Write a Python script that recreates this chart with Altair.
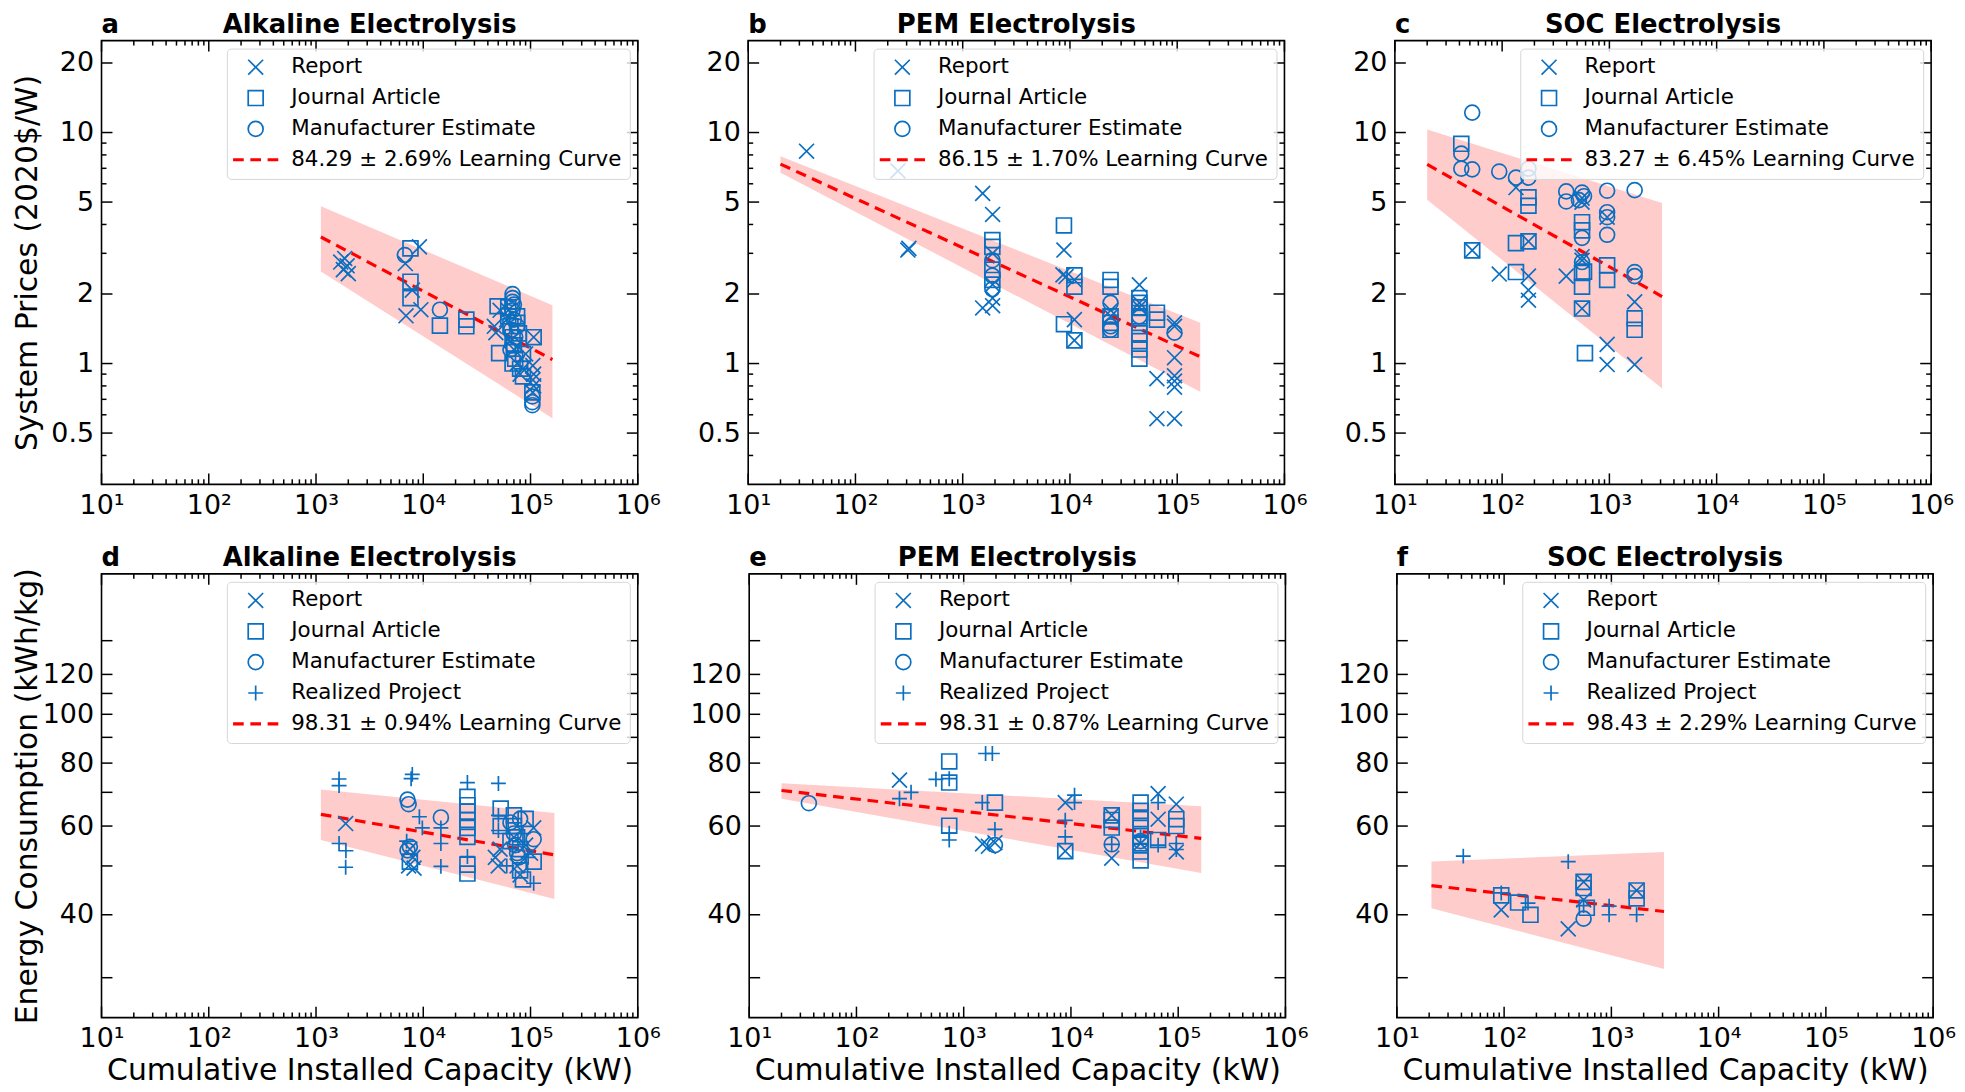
import altair as alt
import pandas as pd

FONT = "DejaVu Sans"
BLUE = "#0b6fc1"
RED = "#ff0000"
BAND = "#ffcccc"
W, H = 539, 446

# ---------------- (a) Alkaline electrolysis, system price ----------------
a_report = [(1700, 2.75), (1800, 2.55), (1850, 2.85), (1950, 2.65), (2000, 2.45),
            (6800, 2.71), (9200, 3.2), (7900, 2.08), (6900, 1.61), (9500, 1.71),
            (47500, 1.36), (46000, 1.45), (52000, 1.7), (60000, 1.55), (65000, 1.25),
            (70000, 1.15), (75000, 1.0), (80000, 0.9), (85000, 0.95), (107000, 1.3),
            (105000, 0.98), (107000, 0.9), (105000, 0.85), (107000, 0.8), (105000, 0.75),
            (90000, 1.1), (62000, 1.7)]
a_journal = [(7600, 3.15), (7600, 2.26), (7600, 1.92), (14300, 1.46), (25200, 1.55),
             (25200, 1.45), (49300, 1.77), (51000, 1.11), (62000, 1.6), (65000, 1.45),
             (68000, 1.3), (70000, 1.2), (72000, 1.05), (75000, 1.5), (78000, 1.35),
             (80000, 0.95), (68000, 1.0), (85000, 1.1), (107000, 1.3), (104000, 0.75),
             (85000, 0.88), (62000, 1.75), (75000, 1.6)]
a_manuf = [(6730, 2.95), (14300, 1.71), (68000, 2.0), (68000, 1.92), (68000, 1.85),
           (70000, 1.8), (68000, 1.7), (70000, 1.55), (66000, 1.4), (72000, 1.3),
           (68000, 1.2), (75000, 1.45), (104000, 0.72), (104000, 0.68), (104000, 0.66),
           (65000, 1.15)]
a_band_x = [1110, 160000]
a_band_hi = [4.8, 1.79]
a_band_lo = [2.5, 0.58]
a_fit = [3.53, 1.04]
a_label = "84.29 ± 2.69% Learning Curve"

# ---------------- (b) PEM electrolysis, system price ----------------
b_report = [(35, 8.3), (249, 6.82), (308, 3.1), (315, 3.15), (1535, 5.45), (1900, 4.42),
            (1900, 3.0), (1900, 2.2), (1535, 1.74), (1900, 1.78), (1900, 1.92),
            (8790, 3.1), (8600, 2.42), (9200, 2.38), (11000, 2.3), (11000, 1.55),
            (11000, 1.26), (24000, 1.7), (24000, 1.6), (44400, 2.19), (44400, 1.83),
            (44400, 1.75), (94400, 1.5), (94400, 1.45), (94400, 1.06), (94400, 0.885),
            (94400, 0.84), (94400, 0.79), (64700, 0.86), (64700, 0.577), (94400, 0.577)]
b_journal = [(1890, 3.42), (1890, 3.2), (1890, 2.55), (1890, 2.3), (8790, 3.96),
             (11000, 2.41), (11000, 2.15), (8790, 1.48), (11000, 1.26), (23900, 2.3),
             (23900, 2.15), (23900, 1.6), (23900, 1.5), (23900, 1.4), (44400, 1.92),
             (44400, 1.83), (44400, 1.75), (44400, 1.6), (44400, 1.5), (44400, 1.35),
             (44400, 1.25), (44400, 1.15), (44400, 1.05), (64700, 1.66), (64700, 1.55)]
b_manuf = [(1890, 2.8), (1890, 2.4), (1890, 2.1), (23900, 1.83), (23900, 1.45),
           (23900, 1.4), (44400, 1.6), (94400, 1.36)]
b_band_x = [20, 164000]
b_band_hi = [7.9, 1.5]
b_band_lo = [6.7, 0.755]
b_fit = [7.3, 1.07]
b_label = "86.15 ± 1.70% Learning Curve"

# ---------------- (c) SOC electrolysis, system price ----------------
c_report = [(52.6, 3.09), (94, 2.44), (134.6, 5.78), (176, 3.38), (176, 2.39), (176, 2.08),
            (176, 1.88), (396, 2.39), (556, 5.2), (556, 5.0), (556, 2.9), (556, 2.8),
            (556, 1.73), (953, 4.3), (953, 1.21), (953, 0.99), (1720, 1.85), (1720, 0.99)]
c_journal = [(41.6, 8.94), (52.6, 3.09), (134.6, 3.32), (134.6, 2.49), (176, 5.24),
             (176, 4.82), (176, 3.38), (556, 4.09), (556, 3.77), (556, 2.47), (556, 2.15),
             (556, 1.73), (592, 1.11), (580, 2.5), (953, 2.66), (953, 2.3), (1720, 1.57),
             (1720, 1.4)]
c_manuf = [(52.6, 12.2), (41.6, 8.1), (41.6, 6.98), (52.6, 6.93), (94, 6.78),
           (134.6, 6.38), (176, 6.98), (176, 6.38), (396, 5.56), (396, 5.03), (556, 5.5),
           (580, 5.3), (520, 5.1), (556, 3.5), (556, 2.75), (953, 5.6), (953, 4.52),
           (953, 4.3), (953, 3.61), (1720, 5.63), (1720, 2.49), (1720, 2.39)]
c_band_x = [20, 3100]
c_band_hi = [10.3, 4.95]
c_band_lo = [5.12, 0.78]
c_fit = [7.28, 1.95]
c_label = "83.27 ± 6.45% Learning Curve"

# ---------------- (d) Alkaline electrolysis, energy consumption ----------------
d_report = [(1890, 60.7), (7500, 54), (8000, 52), (7300, 50), (8200, 49.5), (47000, 52),
            (50000, 50), (52000, 54), (70000, 57), (75000, 50), (80000, 48),
            (107000, 59.5), (100000, 53), (90000, 55)]
d_journal = [(7500, 51), (25800, 68.6), (25800, 66), (25800, 64.1), (25800, 61.7),
             (25800, 59.5), (25800, 57.1), (25800, 50.3), (25800, 48.3), (52700, 65),
             (52700, 60), (70000, 63), (70000, 60), (75000, 57), (80000, 54), (80000, 49),
             (85000, 47), (107000, 51), (65000, 56), (90000, 62)]
d_manuf = [(7130, 67.7), (7300, 66.3), (14600, 62.4), (7130, 53.7), (7500, 54.6),
           (70000, 58), (72000, 55), (75000, 53), (78000, 52), (107000, 56.5),
           (65000, 61), (80000, 62)]
d_realized = [(1640, 74.4), (1640, 72.2), (1640, 55.4), (1900, 53.6), (1890, 49.7),
              (7700, 74.5), (7900, 76), (9200, 62.6), (9800, 59.5), (14600, 59.5),
              (14600, 55.4), (14600, 49.9), (7000, 56), (25800, 73.2), (25800, 52.2),
              (50200, 72.9), (50200, 63), (50200, 58.8), (107000, 46.2), (60000, 50),
              (85000, 58), (95000, 52)]
d_band_x = [1110, 167000]
d_band_hi = [70.9, 63.7]
d_band_lo = [56.3, 43.0]
d_fit = [63.3, 52.6]
d_label = "98.31 ± 0.94% Learning Curve"

# ---------------- (e) PEM electrolysis, energy consumption ----------------
e_report = [(252, 74), (1500, 55.3), (1700, 54.7), (1955, 55.6), (8850, 66.8),
            (8850, 53.5), (24000, 63), (24000, 51.8), (44600, 55.4), (65000, 69.6),
            (65000, 61.9), (96000, 66.3), (96000, 53.3)]
e_journal = [(733, 80.6), (733, 73.2), (733, 60.1), (1955, 66.8), (8850, 53.5),
             (24000, 63), (24000, 61.7), (24000, 59.6), (44600, 66.8), (44600, 64.3),
             (44600, 61.9), (44600, 59.5), (44600, 57.3), (44600, 55.4), (44600, 53.4),
             (44600, 51.3), (65000, 56.3), (96000, 61.9), (96000, 60)]
e_manuf = [(36, 66.6), (1955, 55), (24000, 55.2), (44600, 56)]
e_realized = [(323, 70), (252, 68), (551, 74.3), (733, 74.5), (733, 58.1), (733, 56.3),
              (1600, 83.6), (1850, 83.6), (1490, 66.8), (1955, 59.1), (10800, 69.1),
              (8850, 61.6), (8850, 57.1), (10800, 66.8), (24000, 55.2), (44600, 57),
              (65000, 66.8), (65000, 55), (96000, 55.4), (96000, 53.9)]
e_band_x = [20, 164000]
e_band_hi = [73, 65.7]
e_band_lo = [68, 48.4]
e_fit = [70.6, 56.7]
e_label = "98.31 ± 0.87% Learning Curve"

# ---------------- (f) SOC electrolysis, energy consumption ----------------
f_report = [(94, 40.9), (551, 42.8), (396, 37.5), (551, 46.5), (1720, 44.7)]
f_journal = [(94, 43.7), (135, 42.3), (176, 40), (551, 46.5), (551, 45.2), (590, 41.3),
             (1720, 44.7), (1720, 43.1)]
f_manuf = [(551, 39.3)]
f_realized = [(41.6, 52.3), (396, 51), (94, 44.2), (167, 42.2), (551, 41.7), (953, 41.6),
              (953, 40), (1720, 40)]
f_band_x = [21, 3100]
f_band_hi = [51, 53.3]
f_band_lo = [41.2, 31.2]
f_fit = [45.7, 40.6]
f_label = "98.43 ± 2.29% Learning Curve"

# ---------------- axis tick positions ----------------
X_MAJOR = [10, 100, 1000, 10000, 100000, 1000000]
X_MINOR = [m * d for d in [10, 100, 1000, 10000, 100000] for m in range(2, 10)]
TOP_Y_LABELS = [0.5, 1, 2, 5, 10, 20]
TOP_Y_MINOR = [0.4, 0.6, 0.7, 0.8, 0.9, 3, 4, 6, 7, 8, 9]
BOT_Y_LABELS = [40, 60, 80, 100, 120]
BOT_Y_MAJOR = [30, 40, 50, 60, 70, 80, 90, 100, 110, 120, 140]

XPATH = "M-1,-1L1,1M-1,1L1,-1"
SQPATH = "M-1,-1L1,-1L1,1L-1,1Z"
CIRPATH = "M1,0A1,1,0,1,1,-1,0A1,1,0,1,1,1,0Z"
PLUSPATH = "M-1,0L1,0M0,-1L0,1"
DASHPATH = ("M-3.03,-0.1L-1.6,-0.1M-3.03,0.1L-1.6,0.1"
            "M-0.715,-0.1L0.715,-0.1M-0.715,0.1L0.715,0.1"
            "M1.6,-0.1L3.03,-0.1M1.6,0.1L3.03,0.1")

SUP = "['⁰','¹','²','³','⁴','⁵','⁶'][round(log(datum.value)/LN10)]"
MAJ, MIN = 11, 5


def tick_rules(vals, chan, scale, p0, p1):
    df = pd.DataFrame({"v": vals})
    if chan == "x":
        enc = dict(x=alt.X("v:Q", scale=scale, axis=None), y=alt.value(p0), y2=alt.value(p1))
    else:
        enc = dict(y=alt.Y("v:Q", scale=scale, axis=None), x=alt.value(p0), x2=alt.value(p1))
    return alt.Chart(df).mark_rule(color="black", strokeWidth=1.5).encode(**enc)


def make_panel(groups, bx, bhi, blo, bfit, lc_label, title, letter, yscale,
               ylab_vals, ylab_fmt, ymaj, ymin, ytitle, ytp, xtitle):
    names, xs, ys, kinds, shapes = [], [], [], [], []
    for name, pts, shp in groups:
        kinds.append(name)
        shapes.append(shp)
        for px, py in pts:
            xs.append(px)
            ys.append(py)
            names.append(name)
    dom = kinds + [lc_label]
    rng_shape = shapes + [DASHPATH]
    rng_color = [BLUE] * len(kinds) + [RED]
    pts_df = pd.DataFrame({"x": xs, "y": ys, "kind": names})
    band_df = pd.DataFrame({"x": bx, "hi": bhi, "lo": blo, "fit": bfit})

    xscale = alt.Scale(type="log", domain=[10, 1000000], nice=False)

    lab_x = alt.Axis(orient="bottom", values=X_MAJOR, labelExpr="'10' + " + SUP,
                     ticks=False, domain=False, grid=False, labelPadding=8,
                     labelFlush=False, labelOverlap=False, labelFontSize=27,
                     title=xtitle, titleFontSize=30, titleFontWeight="normal",
                     titlePadding=4)
    lab_y = alt.Axis(orient="left", values=ylab_vals, format=ylab_fmt, ticks=False,
                     domain=False, grid=False, labelPadding=8, labelFlush=False,
                     labelOverlap=False, labelFontSize=27, title=ytitle,
                     titleFontSize=30, titleFontWeight="normal", titlePadding=ytp)

    band = alt.Chart(band_df).mark_area(color=BAND, opacity=1).encode(
        x=alt.X("x:Q", scale=xscale, axis=lab_x),
        y=alt.Y("lo:Q", scale=yscale, axis=lab_y),
        y2="hi:Q",
    )
    line = alt.Chart(band_df).mark_line(color=RED, strokeDash=[10.7, 6.7],
                                        strokeWidth=3.2).encode(
        x=alt.X("x:Q", scale=xscale, axis=None),
        y=alt.Y("fit:Q", scale=yscale, axis=None),
    )
    leg = alt.Legend(title=None, orient="top-right", offset=8)
    points = alt.Chart(pts_df).mark_point(filled=False, size=225, strokeWidth=1.7,
                                          opacity=1).encode(
        x=alt.X("x:Q", scale=xscale, axis=None),
        y=alt.Y("y:Q", scale=yscale, axis=None),
        color=alt.Color("kind:N", scale=alt.Scale(domain=dom, range=rng_color), legend=leg),
        shape=alt.Shape("kind:N", scale=alt.Scale(domain=dom, range=rng_shape), legend=leg),
    )

    ticks = [
        tick_rules(X_MAJOR, "x", xscale, H, H - MAJ),
        tick_rules(X_MINOR, "x", xscale, H, H - MIN),
        tick_rules(X_MAJOR, "x", xscale, 0, MAJ),
        tick_rules(X_MINOR, "x", xscale, 0, MIN),
        tick_rules(ymaj, "y", yscale, 0, MAJ),
        tick_rules(ymaj, "y", yscale, W, W - MAJ),
    ]
    if ymin:
        ticks += [tick_rules(ymin, "y", yscale, 0, MIN),
                  tick_rules(ymin, "y", yscale, W, W - MIN)]

    ttl = alt.Chart(pd.DataFrame({"t": [title]})).mark_text(
        font=FONT, fontSize=26, fontWeight="bold", align="center", baseline="alphabetic",
        color="black").encode(text="t:N", x=alt.value(W / 2), y=alt.value(-8))
    let = alt.Chart(pd.DataFrame({"t": [letter]})).mark_text(
        font=FONT, fontSize=26, fontWeight="bold", align="left", baseline="alphabetic",
        color="black").encode(text="t:N", x=alt.value(0), y=alt.value(-8))

    return alt.layer(band, *ticks, line, points, ttl, let).resolve_scale(
        x="shared", y="shared").resolve_axis(x="independent", y="independent").properties(
        width=W, height=H)


ytop = alt.Scale(type="log", domain=[0.3, 25], nice=False)
ybot = alt.Scale(type="log", domain=[25, 190], nice=False)

R, J, M, P = "Report", "Journal Article", "Manufacturer Estimate", "Realized Project"

pa = make_panel([(R, a_report, XPATH), (J, a_journal, SQPATH), (M, a_manuf, CIRPATH)],
                a_band_x, a_band_hi, a_band_lo, a_fit, a_label, "Alkaline Electrolysis", "a",
                ytop, TOP_Y_LABELS, "~g", TOP_Y_LABELS, TOP_Y_MINOR,
                "System Prices (2020$/W)", 8, None)
pb = make_panel([(R, b_report, XPATH), (J, b_journal, SQPATH), (M, b_manuf, CIRPATH)],
                b_band_x, b_band_hi, b_band_lo, b_fit, b_label, "PEM Electrolysis", "b",
                ytop, TOP_Y_LABELS, "~g", TOP_Y_LABELS, TOP_Y_MINOR, None, 8, None)
pc = make_panel([(R, c_report, XPATH), (J, c_journal, SQPATH), (M, c_manuf, CIRPATH)],
                c_band_x, c_band_hi, c_band_lo, c_fit, c_label, "SOC Electrolysis", "c",
                ytop, TOP_Y_LABELS, "~g", TOP_Y_LABELS, TOP_Y_MINOR, None, 8, None)

XT = "Cumulative Installed Capacity (kW)"
pd_ = make_panel([(R, d_report, XPATH), (J, d_journal, SQPATH), (M, d_manuf, CIRPATH),
                  (P, d_realized, PLUSPATH)],
                 d_band_x, d_band_hi, d_band_lo, d_fit, d_label, "Alkaline Electrolysis", "d",
                 ybot, BOT_Y_LABELS, "d", BOT_Y_MAJOR, [],
                 "Energy Consumption (kWh/kg)", 0, XT)
pe = make_panel([(R, e_report, XPATH), (J, e_journal, SQPATH), (M, e_manuf, CIRPATH),
                 (P, e_realized, PLUSPATH)],
                e_band_x, e_band_hi, e_band_lo, e_fit, e_label, "PEM Electrolysis", "e",
                ybot, BOT_Y_LABELS, "d", BOT_Y_MAJOR, [], None, 0, XT)
pf = make_panel([(R, f_report, XPATH), (J, f_journal, SQPATH), (M, f_manuf, CIRPATH),
                 (P, f_realized, PLUSPATH)],
                f_band_x, f_band_hi, f_band_lo, f_fit, f_label, "SOC Electrolysis", "f",
                ybot, BOT_Y_LABELS, "d", BOT_Y_MAJOR, [], None, 0, XT)

top = alt.hconcat(pa, pb, pc, spacing=35).resolve_scale(color="independent", shape="independent")
bot = alt.hconcat(pd_, pe, pf, spacing=27).resolve_scale(color="independent", shape="independent")

chart = alt.vconcat(
    top, bot, spacing=25, padding={"left": 3, "top": 0, "right": 0, "bottom": 0}
).resolve_scale(
    color="independent", shape="independent"
).configure_view(
    stroke="black", strokeWidth=1.6
).configure_axis(
    labelFont=FONT, titleFont=FONT, labelColor="black", titleColor="black"
).configure_legend(
    labelFont=FONT, labelFontSize=21.5, labelColor="black", labelLimit=0,
    strokeColor="#d6d6d6", fillColor="rgba(255,255,255,0.8)", cornerRadius=4,
    padding=8, rowPadding=8, symbolOffset=10.2, labelOffset=25, symbolSize=225,
    symbolStrokeWidth=1.7
)

chart.save("out.html", embed_options={"renderer": "svg", "actions": False})
